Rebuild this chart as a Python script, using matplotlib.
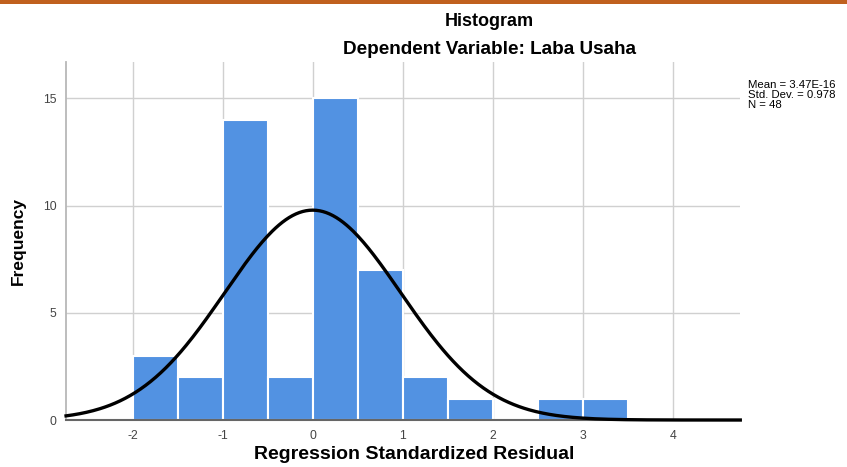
import matplotlib.pyplot as plt
import numpy as np
from matplotlib.patches import Rectangle

plt.rcParams['font.family'] = ['Liberation Sans', 'DejaVu Sans']

# histogram bins (bin width 0.5) and counts
bin_edges = [-2.0, -1.5, -1.0, -0.5, 0.0, 0.5, 1.0, 1.5, 2.0, 2.5, 3.0, 3.5]
counts = [3, 2, 14, 2, 15, 7, 2, 1, 0, 1, 1]
mean = 3.47e-16
std_dev = 0.978
n = 48
xticks = [-2, -1, 0, 1, 2, 3, 4]
yticks = [0, 5, 10, 15]

fig = plt.figure(figsize=(8.47, 4.67), dpi=100)
ax = fig.add_axes([0.078, 0.1006, 0.796, 0.7666])

ax.set_xlim(-2.74, 4.75)
ax.set_ylim(0, 16.7)

lefts = bin_edges[:-1]
widths = np.diff(bin_edges)
ax.bar(lefts, counts, width=widths, align='edge', color='#5292e2',
       edgecolor='white', linewidth=1.5, zorder=2)

# normal curve scaled to counts
xs = np.linspace(-2.74, 4.75, 400)
bw = 0.5
ys = n * bw / (std_dev * np.sqrt(2 * np.pi)) * np.exp(-0.5 * ((xs - mean) / std_dev) ** 2)
ax.plot(xs, ys, color='black', linewidth=2.4, zorder=3, clip_on=False)

ax.set_xticks(xticks)
ax.set_yticks(yticks)
ax.set_xticklabels([str(t) for t in xticks])
ax.grid(True, color='#d0d0d0', linewidth=1.0, zorder=0)
ax.set_axisbelow(True)
ax.tick_params(length=0, labelsize=8.8, colors='#444444', pad=7)

for s in ['top', 'right']:
    ax.spines[s].set_visible(False)
ax.spines['left'].set_color('#b8b8b8')
ax.spines['left'].set_linewidth(1.3)
ax.spines['bottom'].set_color('#666666')
ax.spines['bottom'].set_linewidth(1.5)

fig.text(0.489, 0.026, 'Regression Standardized Residual', ha='center', va='center',
         fontsize=14, fontweight='bold')
fig.text(0.022, 0.485, 'Frequency', ha='center', va='center', rotation=90,
         fontsize=12.5, fontweight='bold')

fig.text(0.578, 0.955, 'Histogram', ha='center', va='center', fontsize=13, fontweight='bold')
fig.text(0.578, 0.895, 'Dependent Variable: Laba Usaha', ha='center', va='center',
         fontsize=13.6, fontweight='bold')
fig.text(0.883, 0.797, 'Mean = 3.47E-16\nStd. Dev. = 0.978\nN = 48', ha='left', va='center',
         fontsize=8.2, linespacing=1.0)

# orange strip along the top
fig.add_artist(Rectangle((0, 0.992), 1, 0.008, transform=fig.transFigure,
                         color='#c0601e', lw=0))

fig.savefig('out.png', dpi=100)
